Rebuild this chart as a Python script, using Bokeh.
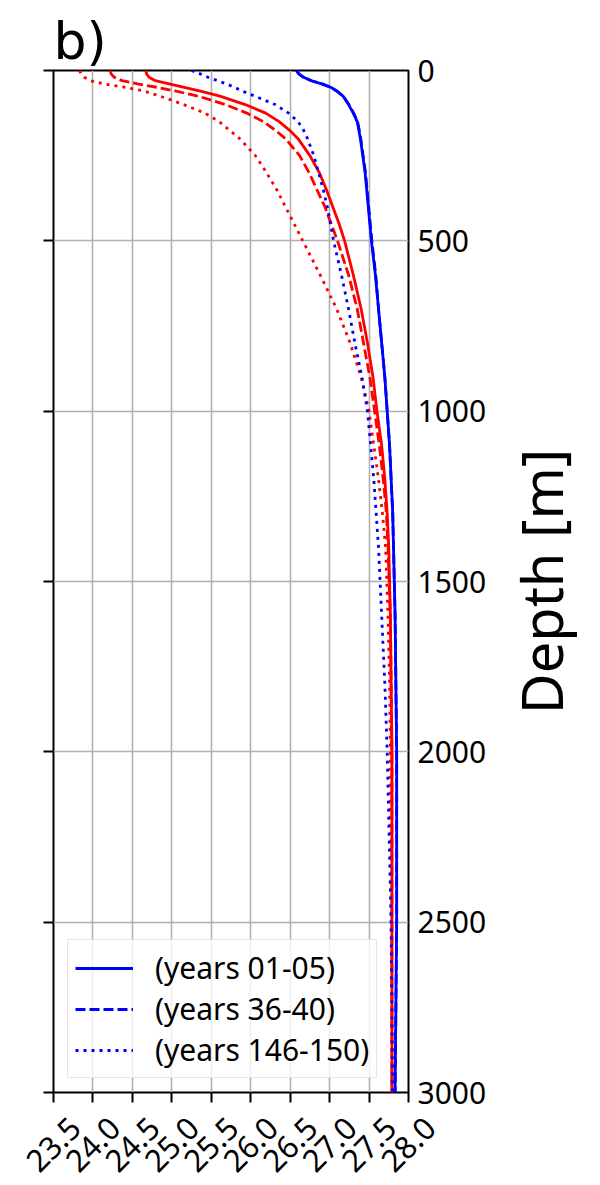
import math
from bokeh.plotting import figure
from bokeh.models import (LinearAxis, FixedTicker, Range1d, Legend, LegendItem,
                          ColumnDataSource)
from bokeh.core.properties import value
from bokeh.embed import file_html
from bokeh.resources import INLINE

# ---------------- data ----------------
depth = [0, 10, 20, 30, 40, 50, 60, 75, 100, 125, 150, 175, 200, 250, 300, 350,
         400, 450, 500, 600, 700, 800, 900, 1000, 1100, 1200, 1300, 1400, 1600,
         1800, 2000, 2500, 3000]

# blue: years 01-05 (solid), 36-40 (dashed), 146-150 (dotted)
blue_01_05 = [26.58, 26.61, 26.67, 26.77, 26.91, 27.02, 27.09, 27.17, 27.24, 27.30,
              27.35, 27.37, 27.39, 27.42, 27.45, 27.47, 27.49, 27.51, 27.53, 27.58,
              27.62, 27.66, 27.70, 27.73, 27.76, 27.78, 27.80, 27.81, 27.83, 27.84,
              27.85, 27.85, 27.83]
blue_36_40 = [26.58, 26.61, 26.67, 26.77, 26.91, 27.02, 27.09, 27.17, 27.245, 27.305,
              27.355, 27.375, 27.395, 27.425, 27.455, 27.475, 27.495, 27.515, 27.535, 27.585,
              27.62, 27.66, 27.70, 27.73, 27.76, 27.78, 27.80, 27.81, 27.83, 27.84,
              27.85, 27.85, 27.83]
blue_146_150 = [25.25, 25.36, 25.46, 25.58, 25.70, 25.80, 25.89, 26.05, 26.31, 26.48,
                26.60, 26.67, 26.72, 26.80, 26.86, 26.92, 26.97, 27.01, 27.05, 27.15,
                27.24, 27.32, 27.41, 27.48, 27.52, 27.56, 27.59, 27.62, 27.66, 27.70,
                27.73, 27.78, 27.80]

# red: same periods
red_01_05 = [24.67, 24.68, 24.71, 24.79, 24.98, 25.17, 25.35, 25.61, 25.93, 26.19,
             26.36, 26.49, 26.60, 26.75, 26.87, 26.96, 27.04, 27.12, 27.19, 27.30,
             27.40, 27.48, 27.55, 27.60, 27.66, 27.70, 27.73, 27.75, 27.77, 27.78,
             27.79, 27.79, 27.79]
red_36_40 = [24.22, 24.23, 24.27, 24.37, 24.58, 24.83, 25.04, 25.33, 25.68, 25.95,
             26.16, 26.31, 26.44, 26.62, 26.74, 26.84, 26.94, 27.02, 27.10, 27.24,
             27.35, 27.43, 27.51, 27.57, 27.63, 27.68, 27.72, 27.74, 27.77, 27.78,
             27.79, 27.79, 27.79]
red_146_150 = [23.83, 23.85, 23.89, 23.97, 24.15, 24.42, 24.64, 24.85, 25.15, 25.42,
               25.60, 25.73, 25.86, 26.06, 26.20, 26.33, 26.44, 26.55, 26.66, 26.88,
               27.09, 27.26, 27.40, 27.50, 27.56, 27.62, 27.67, 27.71, 27.74, 27.76,
               27.77, 27.78, 27.79]

legend_labels = ["(years 01-05)", "(years 36-40)", "(years 146-150)"]
x_ticks = [23.5, 24.0, 24.5, 25.0, 25.5, 26.0, 26.5, 27.0, 27.5, 28.0]
x_tick_labels = ["23.5", "24.0", "24.5", "25.0", "25.5", "26.0", "26.5", "27.0", "27.5", "28.0"]
y_ticks = [0, 500, 1000, 1500, 2000, 2500, 3000]
panel_title = "b)"
y_label = "Depth [m]"

FONT = "Noto Sans"
X0, X1 = 23.5, 28.0
D_TOP, D_BOT = 0, 3000

p = figure(width=600, height=1185,
           x_range=Range1d(X0, X1), y_range=Range1d(D_BOT, D_TOP),
           y_axis_location="right",
           output_backend="svg", toolbar_location=None,
           min_border_left=53, min_border_top=70, min_border_right=192,
           min_border_bottom=93)

p.title.text = panel_title
p.title.text_font = "DejaVu Sans"
p.title.text_font_size = "52px"
p.title.text_font_style = "normal"
p.title.text_color = "black"
p.title.align = "left"
p.title.standoff = 0
p.title.offset = 0

p.outline_line_color = "black"
p.outline_line_width = 2
p.outline_line_alpha = 1

for g in (p.xgrid, p.ygrid):
    g.grid_line_color = "#b0b0b0"
    g.grid_line_width = 1.6
p.xgrid.ticker = FixedTicker(ticks=x_ticks)
p.ygrid.ticker = FixedTicker(ticks=y_ticks)

# bottom axis: ticks only (labels drawn centred below each tick)
xa = p.xaxis[0]
xa.ticker = FixedTicker(ticks=x_ticks)
xa.major_label_text_font_size = "0px"
xa.major_label_text_alpha = 0
xa.major_label_standoff = 0
xa.major_tick_out = 10
xa.major_tick_in = 0
xa.major_tick_line_width = 2
xa.minor_tick_line_color = None
xa.axis_line_color = None

# right axis: labels only
ya = p.yaxis[0]
ya.ticker = FixedTicker(ticks=y_ticks)
ya.major_label_text_font = FONT
ya.major_label_text_font_size = "30px"
ya.major_label_text_color = "black"
ya.major_tick_out = 0
ya.major_tick_in = 0
ya.minor_tick_line_color = None
ya.axis_line_color = None
ya.major_label_standoff = 9

# left axis: ticks only
la = LinearAxis(ticker=FixedTicker(ticks=y_ticks))
la.major_label_text_font_size = "0px"
la.major_label_text_alpha = 0
la.major_label_standoff = 0
la.major_tick_out = 10
la.major_tick_in = 0
la.major_tick_line_width = 2
la.minor_tick_line_color = None
la.axis_line_color = None
p.add_layout(la, "left")

LW = 2.8
DASHED = "10 4"
DOTTED = "3 5"
series = [
    (red_01_05, "red", "solid"),
    (red_36_40, "red", DASHED),
    (red_146_150, "red", DOTTED),
    (blue_146_150, "blue", DOTTED),
    (blue_36_40, "blue", DASHED),
    (blue_01_05, "blue", "solid"),
]
renderers = {}
for vals, col, dash in series:
    src = ColumnDataSource(data=dict(t=vals, d=depth))
    r = p.line("t", "d", source=src, line_color=col, line_width=LW, line_dash=dash)
    renderers[(col, dash)] = r

# x tick labels: rotated 45 deg, centred under each tick (overlay level, not clipped)
tick_src = ColumnDataSource(data=dict(x=x_ticks, y=[D_BOT] * len(x_ticks), t=x_tick_labels))
p.text(x="x", y="y", text="t", source=tick_src, level="overlay",
       angle=math.pi / 4, y_offset=52, text_align="center", text_baseline="middle",
       text_font=value(FONT), text_font_size="31px", text_color="black")

# y-axis title, reading bottom-to-top, centred on the frame
p.text(x=[X1], y=[(D_TOP + D_BOT) / 2], text=[y_label], level="overlay",
       angle=math.pi / 2, x_offset=132, text_align="center", text_baseline="middle",
       text_font=value(FONT), text_font_size="56px", text_color="black")

items = [
    LegendItem(label=legend_labels[0], renderers=[renderers[("blue", "solid")]]),
    LegendItem(label=legend_labels[1], renderers=[renderers[("blue", DASHED)]]),
    LegendItem(label=legend_labels[2], renderers=[renderers[("blue", DOTTED)]]),
]
legend = Legend(items=items, location="bottom_left")
legend.label_text_font = FONT
legend.label_text_font_size = "30px"
legend.label_text_color = "black"
legend.glyph_width = 58
legend.glyph_height = 30
legend.label_height = 30
legend.spacing = 0
legend.padding = 7
legend.margin = 14
legend.label_standoff = 22
legend.border_line_color = "#cccccc"
legend.border_line_width = 1.5
legend.background_fill_alpha = 0.8
p.add_layout(legend)

open("out.html", "w").write(file_html(p, INLINE))
